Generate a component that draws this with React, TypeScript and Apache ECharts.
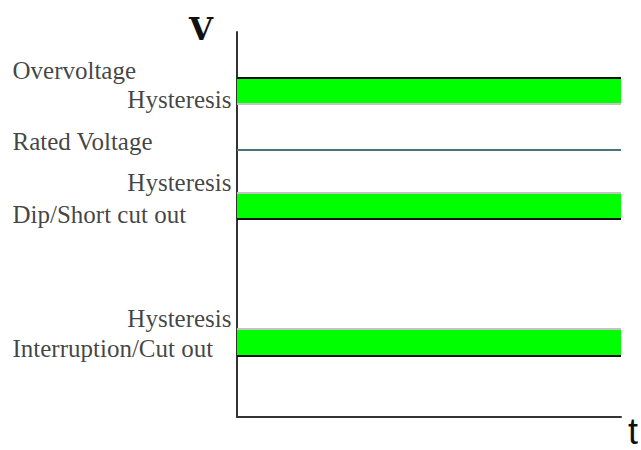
import React, { useEffect, useRef } from "react";
import * as echarts from "echarts";

// Voltage levels in % of rated voltage (schematic)
const yMax = 144;
const levelNames = ["Overvoltage", "Rated Voltage", "Dip/Short cut out", "Interruption/Cut out"];
const levelValues = [127, 100, 74, 23];
// hysteresis bands: [threshold, hysteresis edge]
const bandThresholds = [127, 74, 23];
const bandHysteresis = [117, 84, 33];
const hysteresisLabel = "Hysteresis";
// label vertical nudges (px) relative to their line
const nameOffsets = [-7, -8, -5, -7];
const hystOffsets = [-5, -10, -10];

export default function App() {
  const ref = useRef<HTMLDivElement>(null);
  useEffect(() => {
    if (!ref.current) return;
    const chart = echarts.init(ref.current, null, { renderer: "svg" });
    const labelFont = { fontFamily: "Liberation Serif", fontSize: 25, color: "#111" };

    const markLines: any[] = [];
    bandThresholds.forEach((v) =>
      markLines.push({ yAxis: v, lineStyle: { color: "#111", width: 2, type: "solid" } })
    );
    bandHysteresis.forEach((v) =>
      markLines.push({ yAxis: v, lineStyle: { color: "#c4c4c4", width: 2, type: "solid" } })
    );
    markLines.push({ yAxis: levelValues[1], lineStyle: { color: "#45767a", width: 2, type: "solid" } });

    const labelData: any[] = [];
    levelNames.forEach((n, i) =>
      labelData.push({
        value: [0, levelValues[i]],
        label: { show: true, formatter: n, position: "left", distance: 5, align: "left", offset: [-219, nameOffsets[i]], ...labelFont },
      })
    );
    bandHysteresis.forEach((v, i) =>
      labelData.push({
        value: [0, v],
        label: { show: true, formatter: hysteresisLabel, position: "left", distance: 5, align: "right", offset: [0, hystOffsets[i]], ...labelFont },
      })
    );

    chart.setOption({
      animation: false,
      backgroundColor: "#ffffff",
      grid: { left: 237, right: 20, top: 32, bottom: 33 },
      xAxis: {
        type: "value", min: 0, max: 1,
        axisLine: { show: true, onZero: false, lineStyle: { color: "#333", width: 2 } },
        axisTick: { show: false }, axisLabel: { show: false }, splitLine: { show: false },
      },
      yAxis: {
        type: "value", min: 0, max: yMax,
        axisLine: { show: true, onZero: false, lineStyle: { color: "#333", width: 2 } },
        axisTick: { show: false }, axisLabel: { show: false }, splitLine: { show: false },
      },
      series: [
        {
          type: "line",
          data: [],
          silent: true,
          markArea: {
            silent: true,
            itemStyle: { color: "#00ff00" },
            data: bandThresholds.map((t, i) => [{ yAxis: Math.min(t, bandHysteresis[i]) }, { yAxis: Math.max(t, bandHysteresis[i]) }]),
          },
          markLine: {
            silent: true,
            symbol: "none",
            label: { show: false },
            data: markLines,
          },
        },
        {
          type: "scatter",
          symbolSize: 1,
          itemStyle: { color: "rgba(0,0,0,0)" },
          silent: true,
          data: labelData,
        },
      ],
      graphic: [
        { type: "text", left: 189, top: 13, style: { text: "V", font: 'bold 31px "DejaVu Serif"', fill: "#111" } },
        { type: "text", left: 628, top: 413, style: { text: "t", font: '36px "Liberation Sans"', fill: "#111" } },
      ],
    });
    return () => chart.dispose();
  }, []);
  return <div ref={ref} style={{ position: "fixed", left: 0, top: 0, width: 641, height: 450 }} />;
}
